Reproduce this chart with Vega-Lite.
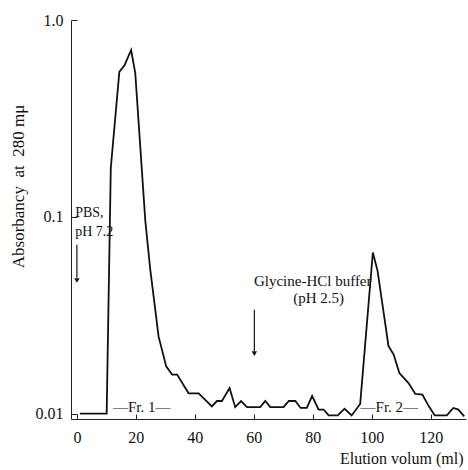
{
  "$schema": "https://vega.github.io/schema/vega-lite/v6.json",
  "width": 395,
  "height": 399,
  "autosize": {"type": "none"},
  "padding": {"left": 71, "top": 20, "right": 2, "bottom": 51},
  "background": "white",
  "config": {
    "view": {"stroke": null},
    "font": "Liberation Serif",
    "axis": {"grid": false, "domainColor": "#222", "tickColor": "#222", "labelColor": "#111", "titleColor": "#111", "labelFont": "Liberation Serif", "titleFont": "Liberation Serif", "titleFontWeight": "normal"}
  },
  "datasets": {
    "trace": [
      {"v": 1.0, "a": 0.01}, {"v": 10.1, "a": 0.01}, {"v": 11.5, "a": 0.177},
      {"v": 14.4, "a": 0.545}, {"v": 16.2, "a": 0.591}, {"v": 18.4, "a": 0.704},
      {"v": 19.8, "a": 0.538}, {"v": 23.2, "a": 0.096}, {"v": 24.9, "a": 0.0538},
      {"v": 26.6, "a": 0.0337}, {"v": 27.7, "a": 0.0247}, {"v": 30.3, "a": 0.0174},
      {"v": 32.3, "a": 0.0158}, {"v": 34.0, "a": 0.0158}, {"v": 37.9, "a": 0.0127},
      {"v": 41.3, "a": 0.0127}, {"v": 45.8, "a": 0.0109}, {"v": 47.5, "a": 0.0116},
      {"v": 49.2, "a": 0.0116}, {"v": 51.8, "a": 0.0135}, {"v": 53.7, "a": 0.0108},
      {"v": 55.7, "a": 0.0116}, {"v": 57.7, "a": 0.0108}, {"v": 62.2, "a": 0.0108},
      {"v": 63.9, "a": 0.0116}, {"v": 65.6, "a": 0.0108}, {"v": 70.1, "a": 0.0108},
      {"v": 71.9, "a": 0.0116}, {"v": 74.1, "a": 0.0116}, {"v": 75.9, "a": 0.0107},
      {"v": 78.0, "a": 0.0107}, {"v": 79.8, "a": 0.0123}, {"v": 82.0, "a": 0.0105},
      {"v": 83.7, "a": 0.0105}, {"v": 85.4, "a": 0.0098}, {"v": 88.5, "a": 0.0098},
      {"v": 90.8, "a": 0.0106}, {"v": 93.2, "a": 0.0098}, {"v": 96.1, "a": 0.0112},
      {"v": 100.4, "a": 0.0659}, {"v": 102.0, "a": 0.0532}, {"v": 105.7, "a": 0.0221},
      {"v": 107.5, "a": 0.0199}, {"v": 109.4, "a": 0.0161}, {"v": 112.5, "a": 0.0143},
      {"v": 114.8, "a": 0.0126}, {"v": 117.2, "a": 0.0125}, {"v": 119.4, "a": 0.0109},
      {"v": 121.4, "a": 0.0098}, {"v": 125.5, "a": 0.0098}, {"v": 127.7, "a": 0.0107},
      {"v": 129.4, "a": 0.0105}, {"v": 131.4, "a": 0.0097}
    ],
    "leftLabels": [
      {"v": -0.6, "a": 0.105, "t": "PBS,"},
      {"v": -0.6, "a": 0.0837, "t": "pH 7.2"}
    ],
    "centerLabels": [
      {"v": 80.0, "a": 0.0472, "t": "Glycine-HCl buffer"},
      {"v": 82.0, "a": 0.0385, "t": "(pH 2.5)"},
      {"v": 22.0, "a": 0.0108, "t": "—Fr. 1—"},
      {"v": 106.0, "a": 0.0108, "t": "—Fr. 2—"}
    ],
    "arrows": [
      {"v": 0.0, "a1": 0.0721, "a2": 0.049},
      {"v": 60.2, "a1": 0.0337, "a2": 0.0208}
    ],
    "heads": [
      {"v": 0.0, "a": 0.0475},
      {"v": 60.2, "a": 0.0202}
    ]
  },
  "layer": [
    {
      "data": {"name": "trace"},
      "mark": {"type": "line", "color": "#111", "strokeWidth": 1.8},
      "encoding": {
        "x": {"field": "v", "type": "quantitative",
              "scale": {"domain": [-2, 132], "nice": false, "zero": false},
              "axis": {"values": [0, 20, 40, 60, 80, 100, 120], "tickSize": -5, "labelPadding": 15, "labelFontSize": 16, "labelBaseline": "top",
                       "title": "Elution volum (ml)", "titleFontSize": 16, "titleAlign": "right", "titleAnchor": "end", "titleX": 392, "titleY": 44, "titleBaseline": "alphabetic"}},
        "y": {"field": "a", "type": "quantitative",
              "scale": {"type": "log", "domain": [0.0094, 1.0], "nice": false},
              "axis": {"values": [0.01, 0.1, 1], "tickSize": -6, "labelPadding": 14, "labelFontSize": 16,
                       "labelExpr": "datum.value >= 0.99 ? '1.0' : (datum.value > 0.05 ? '0.1' : '0.01')",
                       "title": "Absorbancy\u00a0\u00a0at\u00a0\u00a0280\u00a0mμ", "titleFontSize": 17, "titleAngle": -90, "titleX": -53, "titleY": 166, "titleAlign": "center", "titleBaseline": "middle"}}
      }
    },
    {
      "data": {"name": "leftLabels"},
      "mark": {"type": "text", "fontSize": 14, "color": "#111", "baseline": "middle", "align": "left"},
      "encoding": {
        "x": {"field": "v", "type": "quantitative"},
        "y": {"field": "a", "type": "quantitative"},
        "text": {"field": "t"}
      }
    },
    {
      "data": {"name": "centerLabels"},
      "mark": {"type": "text", "fontSize": 15, "color": "#111", "baseline": "middle", "align": "center"},
      "encoding": {
        "x": {"field": "v", "type": "quantitative"},
        "y": {"field": "a", "type": "quantitative"},
        "text": {"field": "t"}
      }
    },
    {
      "data": {"name": "arrows"},
      "mark": {"type": "rule", "color": "#111", "strokeWidth": 1.2},
      "encoding": {
        "x": {"field": "v", "type": "quantitative"},
        "y": {"field": "a1", "type": "quantitative"},
        "y2": {"field": "a2"}
      }
    },
    {
      "data": {"name": "heads"},
      "mark": {"type": "point", "shape": "triangle-down", "filled": true, "color": "#111", "size": 30, "opacity": 1},
      "encoding": {
        "x": {"field": "v", "type": "quantitative"},
        "y": {"field": "a", "type": "quantitative"}
      }
    }
  ]
}
